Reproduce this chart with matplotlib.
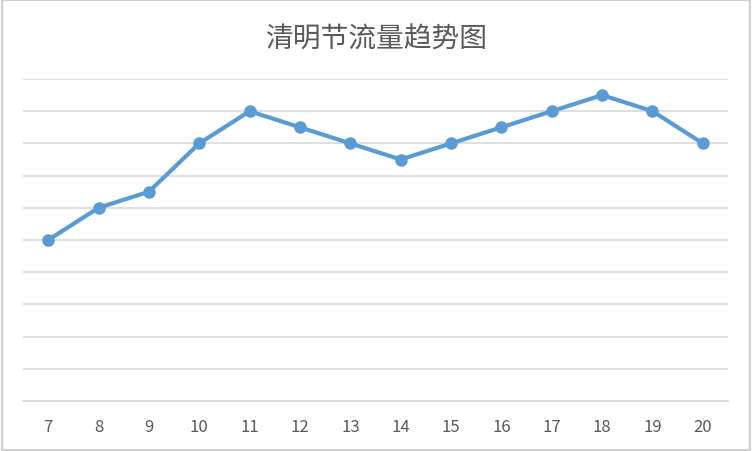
import matplotlib.pyplot as plt
import numpy as np

plt.rcParams['font.family'] = ['Noto Sans CJK SC', 'DejaVu Sans']

# 日期（4月）与流量（相对值）
days = ["7", "8", "9", "10", "11", "12", "13", "14", "15", "16", "17", "18", "19", "20"]
flow = [5, 6, 6.5, 8, 9, 8.5, 8, 7.5, 8, 8.5, 9, 9.5, 9, 8]

fig = plt.figure(figsize=(7.52, 4.52), dpi=100)
ax = fig.add_axes([0.0306, 0.1106, 0.9375, 0.7124])

x = np.arange(len(days))
ax.plot(x, flow, color="#5B9BD5", linewidth=3, marker="o", markersize=8,
        solid_capstyle="round", solid_joinstyle="round", zorder=3)

ax.set_xlim(-0.5, len(days) - 0.5)
ax.set_ylim(0, 10)
ax.set_yticks(np.arange(0, 11, 1))
ax.yaxis.grid(True, color="#D9D9D9", linewidth=1.2)
ax.set_axisbelow(True)
ax.tick_params(axis="y", left=False, labelleft=False)
ax.set_xticks(x)
ax.set_xticklabels(days)
ax.tick_params(axis="x", length=0, pad=12, labelsize=12, labelcolor="#595959")

for side in ["top", "left", "right"]:
    ax.spines[side].set_visible(False)
ax.spines["bottom"].set_color("#D9D9D9")
ax.spines["bottom"].set_linewidth(1.2)

fig.text(0.5, 0.912, "清明节流量趋势图", ha="center", va="center",
         fontsize=20, color="#595959")

# 外框
fig.patches.append(plt.Rectangle((0.002, 0.003), 0.996, 0.994, transform=fig.transFigure,
                                 fill=False, edgecolor="#D0D0D0", linewidth=1.5))

fig.savefig("out.png", dpi=100)
